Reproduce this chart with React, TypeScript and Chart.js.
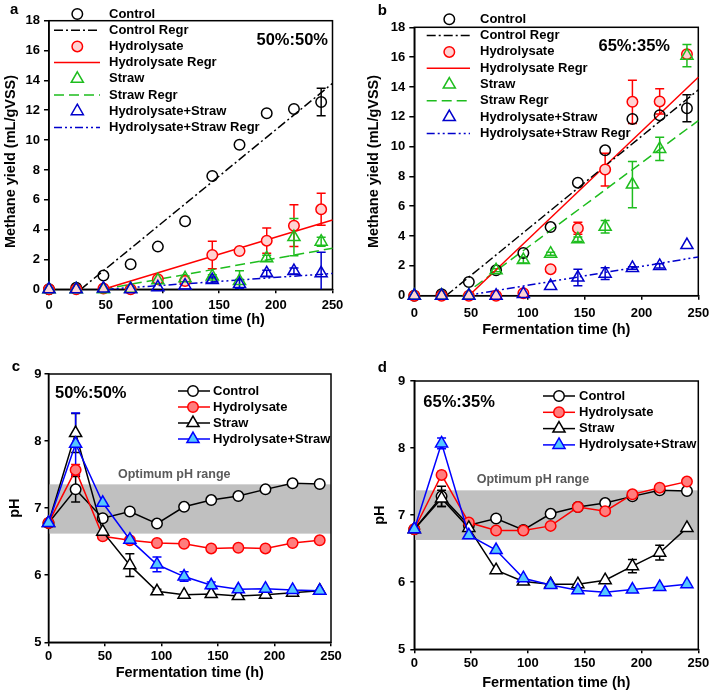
import React, { useEffect, useRef } from 'react';
import { Chart, registerables } from 'chart.js';

Chart.register(...registerables);

const FONT = "'Liberation Sans', Arial, Helvetica, sans-serif";

// ---------- shared ----------
const TIME_H = [0, 24, 48, 72, 96, 120, 144, 168, 192, 216, 240];
const X_TICK_STEP = 50;
const X_MIN = 0;
const X_MAX = 250;
const X_TITLE = 'Fermentation time (h)';
const SERIES_NAMES = ['Control', 'Hydrolysate', 'Straw', 'Hydrolysate+Straw'];
const REGR_NAMES = ['Control Regr', 'Hydrolysate Regr', 'Straw Regr', 'Hydrolysate+Straw Regr'];

// ---------- panel a : methane yield, 50%:50% ----------
const A_CONTROL = [0, 0.1, 0.92, 1.68, 2.86, 4.56, 7.59, 9.69, 11.8, 12.08, 12.55];
const A_CONTROL_ERR = [0, 0, 0, 0, 0, 0, 0, 0, 0, 0, 0.92];
const A_HYDRO = [0, 0, 0.05, 0, 0.67, 0.55, 2.3, 2.57, 3.26, 4.26, 5.36];
const A_HYDRO_ERR = [0, 0, 0, 0, 0, 0, 0.92, 0.15, 0.84, 1.4, 1.07];
const A_STRAW = [0, 0, 0, 0.03, 0.6, 0.74, 0.86, 0.55, 2.08, 3.5, 3.19];
const A_STRAW_ERR = [0, 0, 0, 0, 0, 0.15, 0.12, 0.7, 0.2, 1.25, 0.3];
const A_HS = [0, 0, 0.05, 0, 0.13, 0.25, 0.62, 0.35, 1.07, 1.22, 1.07];
const A_HS_ERR = [0, 0, 0, 0, 0, 0, 0.2, 0.3, 0.2, 0.2, 1.42];
const A_REGR_X0 = [28, 48, 47, 50];
const A_REGR_Y_END = [13.8, 4.65, 2.75, 1.06];

// ---------- panel b : methane yield, 65%:35% ----------
const B_CONTROL = [0, 0.1, 0.92, 1.7, 2.86, 4.6, 7.58, 9.75, 11.85, 12.1, 12.57];
const B_CONTROL_ERR = [0, 0, 0, 0, 0, 0, 0, 0, 0, 0, 0.9];
const B_HYDRO = [0, 0, 0, 0, 0.17, 1.78, 4.52, 8.46, 13.0, 13.03, 16.2];
const B_HYDRO_ERR = [0, 0, 0, 0, 0, 0.1, 0.4, 1.1, 1.45, 0.85, 0.15];
const B_STRAW = [0, 0, 0, 1.7, 2.39, 2.82, 3.78, 4.62, 7.45, 9.84, 16.1];
const B_STRAW_ERR = [0, 0, 0, 0.1, 0.2, 0.1, 0.15, 0.42, 1.55, 0.78, 0.74];
const B_HS = [0, 0, 0, 0, 0.12, 0.65, 1.22, 1.48, 1.86, 2.0, 3.4];
const B_HS_ERR = [0, 0, 0, 0, 0, 0, 0.55, 0.4, 0.08, 0.15, 0];
const B_REGR_X0 = [28, 48, 42.5, 45];
const B_REGR_Y_END = [13.8, 14.65, 11.74, 2.6];

// ---------- panel c : pH, 50%:50% ----------
const C_CONTROL = [6.78, 7.28, 6.85, 6.95, 6.77, 7.02, 7.12, 7.18, 7.28, 7.37, 7.36];
const C_CONTROL_ERR = [0, 0.19, 0, 0, 0, 0, 0, 0, 0, 0, 0];
const C_HYDRO = [6.78, 7.57, 6.58, 6.52, 6.48, 6.47, 6.4, 6.41, 6.4, 6.48, 6.52];
const C_HYDRO_ERR = [0, 0.08, 0, 0, 0, 0, 0, 0, 0, 0.04, 0.03];
const C_STRAW = [6.78, 8.12, 6.65, 6.15, 5.76, 5.71, 5.72, 5.69, 5.71, 5.74, 5.77];
const C_STRAW_ERR = [0, 0.29, 0, 0.17, 0.03, 0, 0, 0, 0, 0, 0];
const C_HS = [6.78, 7.96, 7.08, 6.53, 6.16, 5.98, 5.85, 5.79, 5.8, 5.78, 5.77];
const C_HS_ERR = [0, 0.46, 0, 0, 0.11, 0.07, 0.05, 0, 0, 0, 0];
const C_OPTIMUM = [6.62, 7.355];

// ---------- panel d : pH, 65%:35% ----------
const D_CONTROL = [6.79, 7.28, 6.85, 6.95, 6.78, 7.02, 7.12, 7.18, 7.28, 7.37, 7.36];
const D_CONTROL_ERR = [0, 0.15, 0, 0, 0, 0, 0, 0, 0, 0, 0];
const D_HYDRO = [6.79, 7.6, 6.89, 6.77, 6.77, 6.84, 7.12, 7.06, 7.31, 7.41, 7.5];
const D_HYDRO_ERR = [0, 0.05, 0, 0, 0, 0, 0, 0, 0, 0, 0];
const D_STRAW = [6.79, 7.25, 6.81, 6.18, 6.01, 5.97, 5.97, 6.03, 6.24, 6.44, 6.81];
const D_STRAW_ERR = [0, 0.12, 0, 0, 0, 0, 0, 0, 0.1, 0.11, 0];
const D_HS = [6.79, 8.07, 6.7, 6.48, 6.06, 5.96, 5.88, 5.85, 5.89, 5.93, 5.97];
const D_HS_ERR = [0, 0.08, 0, 0, 0, 0, 0, 0, 0, 0, 0];
const D_OPTIMUM = [6.63, 7.37];

const OPTIMUM_LABEL = 'Optimum pH range';

// ---------- styles ----------
const NONE = 'rgba(0,0,0,0)';
const AB_STYLES = [
  { color: '#000000', fill: NONE, shape: 'circle', r: 5.25, dash: [9, 3, 2, 3] },
  { color: '#ff0000', fill: '#ffd2d2', shape: 'circle', r: 5.25, dash: [] },
  { color: '#1ebd1e', fill: NONE, shape: 'triangle', r: 7, dash: [10, 5] },
  { color: '#0000cc', fill: NONE, shape: 'triangle', r: 7, dash: [8, 3, 2, 3, 2, 3] },
];
const CD_STYLES = [
  { color: '#000000', fill: '#ffffff', shape: 'circle', r: 5.25 },
  { color: '#ff0000', fill: '#ff7d7d', shape: 'circle', r: 5.25 },
  { color: '#000000', fill: '#ffffff', shape: 'triangle', r: 7 },
  { color: '#0000ff', fill: '#55c8ff', shape: 'triangle', r: 7 },
];

function drawShape(ctx, shape, x, y, r, stroke, fill) {
  ctx.save();
  ctx.setLineDash([]);
  ctx.beginPath();
  if (shape === 'circle') {
    ctx.arc(x, y, r, 0, Math.PI * 2);
  } else {
    for (let k = 0; k < 3; k++) {
      const a = (k * 2 * Math.PI) / 3;
      const px = x + Math.sin(a) * r;
      const py = y - Math.cos(a) * r;
      if (k === 0) ctx.moveTo(px, py);
      else ctx.lineTo(px, py);
    }
    ctx.closePath();
  }
  ctx.fillStyle = fill;
  ctx.fill();
  ctx.lineWidth = 1.5;
  ctx.strokeStyle = stroke;
  ctx.stroke();
  ctx.restore();
}

function markerDataset(label, ys, errs, st, order, showLine) {
  return {
    label,
    data: TIME_H.map((x, i) => ({ x, y: ys[i] })),
    errors: errs,
    showLine,
    borderColor: st.color,
    backgroundColor: st.fill,
    borderWidth: 1.5,
    pointStyle: st.shape,
    pointRadius: st.r,
    pointBorderWidth: 1.5,
    pointBorderColor: st.color,
    pointBackgroundColor: st.fill,
    tension: 0,
    order,
    clip: false,
  };
}

function regrDataset(label, x0, yEnd, st) {
  return {
    label,
    data: [
      { x: x0, y: 0 },
      { x: X_MAX, y: yEnd },
    ],
    showLine: true,
    borderColor: st.color,
    borderWidth: 1.5,
    borderDash: st.dash,
    pointRadius: 0,
    fill: false,
    order: 10,
    clip: false,
  };
}

function makeOverlay(spec) {
  return {
    id: 'overlay',
    beforeDatasetsDraw(chart) {
      const { ctx, chartArea: ca, scales } = chart;
      const xs = scales.x;
      const ys = scales.y;
      ctx.save();
      if (spec.band) {
        const yTop = ys.getPixelForValue(spec.band[1]);
        const yBot = ys.getPixelForValue(spec.band[0]);
        ctx.fillStyle = '#c0c0c0';
        ctx.fillRect(ca.left, yTop, ca.right - ca.left, yBot - yTop);
        ctx.fillStyle = '#5a5a5a';
        ctx.font = `bold 12.5px ${FONT}`;
        ctx.textAlign = 'left';
        ctx.textBaseline = 'middle';
        ctx.fillText(OPTIMUM_LABEL, spec.bandLabelX, ys.getPixelForValue(spec.bandLabelY));
      }
      ctx.strokeStyle = '#000';
      ctx.lineWidth = 1.5;
      ctx.strokeRect(ca.left, ca.top, ca.right - ca.left, ca.bottom - ca.top);
      ctx.beginPath();
      ctx.rect(ca.left, ca.top - 10, ca.right - ca.left, ca.bottom - ca.top + 10);
      ctx.clip();
      chart.data.datasets.forEach((ds) => {
        const errs = ds.errors;
        if (!errs) return;
        ctx.strokeStyle = ds.pointBorderColor;
        ctx.lineWidth = 1.5;
        ctx.setLineDash([]);
        ds.data.forEach((p, j) => {
          const e = errs[j];
          if (!e) return;
          const px = xs.getPixelForValue(p.x);
          const yt = ys.getPixelForValue(p.y + e);
          const yb = ys.getPixelForValue(p.y - e);
          const cap = 4.5;
          ctx.beginPath();
          ctx.moveTo(px, yt);
          ctx.lineTo(px, yb);
          ctx.moveTo(px - cap, yt);
          ctx.lineTo(px + cap, yt);
          ctx.moveTo(px - cap, yb);
          ctx.lineTo(px + cap, yb);
          ctx.stroke();
        });
      });
      ctx.restore();
    },
    afterDraw(chart) {
      const { ctx } = chart;
      ctx.save();
      // y title drawn manually when an explicit centre is given
      if (spec.yTitleCenterY) {
        ctx.save();
        ctx.fillStyle = '#000';
        ctx.font = `bold 14.5px ${FONT}`;
        ctx.textAlign = 'center';
        ctx.textBaseline = 'middle';
        ctx.translate(spec.yTitleX, spec.yTitleCenterY);
        ctx.rotate(-Math.PI / 2);
        ctx.fillText(spec.yTitle, 0, 0);
        ctx.restore();
      }
      // panel letter
      ctx.fillStyle = '#000';
      ctx.font = `bold 15px ${FONT}`;
      ctx.textAlign = 'left';
      ctx.textBaseline = 'alphabetic';
      ctx.fillText(spec.letter, spec.letterX, spec.letterY);
      // ratio label
      ctx.font = `bold 16.5px ${FONT}`;
      ctx.textAlign = spec.ratioAlign;
      ctx.fillText(spec.ratio, spec.ratioX, spec.ratioY);
      // legend
      const lg = spec.legend;
      ctx.font = `bold 13px ${FONT}`;
      ctx.textAlign = 'left';
      ctx.textBaseline = 'middle';
      lg.items.forEach((it, i) => {
        const y = lg.y0 + i * lg.dy;
        if (it.line) {
          ctx.save();
          ctx.strokeStyle = it.lineColor;
          ctx.lineWidth = 1.5;
          ctx.setLineDash(it.dash || []);
          ctx.beginPath();
          ctx.moveTo(lg.x0, y);
          ctx.lineTo(lg.x1, y);
          ctx.stroke();
          ctx.restore();
        }
        if (it.marker) {
          drawShape(ctx, it.marker.shape, lg.mx, y, it.marker.r, it.marker.color, it.marker.fill);
        }
        ctx.fillStyle = '#000';
        ctx.fillText(it.label, lg.tx, y);
      });
      ctx.restore();
    },
  };
}

function buildConfig(spec) {
  const { w, h, area } = spec;
  return {
    type: 'line',
    data: { datasets: spec.datasets },
    options: {
      responsive: false,
      animation: false,
      devicePixelRatio: 1,
      events: [],
      layout: { padding: { left: 0, top: area.T, right: w - area.R, bottom: 0 } },
      plugins: { legend: { display: false }, tooltip: { enabled: false } },
      scales: {
        x: {
          type: 'linear',
          min: X_MIN,
          max: X_MAX,
          ticks: { stepSize: X_TICK_STEP, color: '#000', font: { family: FONT, size: 13, weight: 'bold' }, padding: spec.xTickPad, maxRotation: 0 },
          grid: { drawOnChartArea: false, drawTicks: true, tickLength: 4, color: '#000', lineWidth: 1.5 },
          border: { display: true, color: '#000', width: 1.5 },
          title: { display: true, text: X_TITLE, color: '#000', font: { family: FONT, size: 14.5, weight: 'bold' }, padding: { top: 0, bottom: spec.xTitlePad } },
          afterFit: (s) => {
            s.height = h - area.B;
            s.paddingLeft = 0;
            s.paddingRight = 0;
          },
        },
        y: {
          type: 'linear',
          min: spec.yMin,
          max: spec.yMax,
          ticks: { stepSize: spec.yStep, color: '#000', font: { family: FONT, size: 13, weight: 'bold' }, padding: spec.yTickPad },
          grid: { drawOnChartArea: false, drawTicks: true, tickLength: spec.yTickLen, color: '#000', lineWidth: 1.5 },
          border: { display: true, color: '#000', width: 1.5 },
          title: { display: !spec.yTitleCenterY, text: spec.yTitle, color: '#000', font: { family: FONT, size: 14.5, weight: 'bold' }, padding: { top: spec.yTitlePad, bottom: 0 } },
          afterFit: (s) => {
            s.width = area.L;
            s.paddingTop = 0;
            s.paddingBottom = 0;
          },
        },
      },
    },
    plugins: [makeOverlay(spec)],
  };
}

function methaneDatasets(series, errs, regrX0, regrYEnd) {
  const markers = series.map((ys, i) =>
    markerDataset(SERIES_NAMES[i], ys, errs[i], AB_STYLES[i], 4 - i, false)
  );
  const regr = regrX0.map((x0, i) => regrDataset(REGR_NAMES[i], x0, regrYEnd[i], AB_STYLES[i]));
  return [...markers, ...regr];
}

function phDatasets(series, errs) {
  return series.map((ys, i) => markerDataset(SERIES_NAMES[i], ys, errs[i], CD_STYLES[i], 4 - i, true));
}

function methaneLegendItems() {
  const items = [];
  SERIES_NAMES.forEach((name, i) => {
    const st = AB_STYLES[i];
    items.push({ label: name, marker: st });
    items.push({ label: REGR_NAMES[i], line: true, lineColor: st.color, dash: st.dash });
  });
  return items;
}

function phLegendItems() {
  return SERIES_NAMES.map((name, i) => ({
    label: name,
    marker: CD_STYLES[i],
    line: true,
    lineColor: CD_STYLES[i].color,
  }));
}

const PANELS = [
  {
    key: 'a', left: 0, top: 0, w: 355, h: 345,
    area: { L: 49, R: 332.5, T: 20.7, B: 289.3 },
    yMin: 0, yMax: 18, yStep: 2, yTitle: 'Methane yield (mL/gVSS)',
    yTitlePad: 2, yTitleX: 10.7, yTitleCenterY: 161.5,
    yTickPad: 4, yTickLen: 5, xTickPad: 3.9, xTitlePad: 16.8,
    letter: 'a', letterX: 10, letterY: 14,
    ratio: '50%:50%', ratioAlign: 'right', ratioX: 328, ratioY: 44.5,
    legend: { y0: 14, dy: 16.2, x0: 54, x1: 100, mx: 77.3, tx: 109, items: methaneLegendItems() },
    datasets: methaneDatasets([A_CONTROL, A_HYDRO, A_STRAW, A_HS], [A_CONTROL_ERR, A_HYDRO_ERR, A_STRAW_ERR, A_HS_ERR], A_REGR_X0, A_REGR_Y_END),
  },
  {
    key: 'b', left: 355, top: 0, w: 355, h: 345,
    area: { L: 59.3, R: 343.3, T: 27.3, B: 295.7 },
    yMin: 0, yMax: 18, yStep: 2, yTitle: 'Methane yield (mL/gVSS)',
    yTitlePad: 10.5, yTickPad: 4, yTickLen: 5, xTickPad: 5.5, xTitlePad: 6.3,
    letter: 'b', letterX: 22.7, letterY: 15,
    ratio: '65%:35%', ratioAlign: 'right', ratioX: 315, ratioY: 50.7,
    legend: { y0: 19.3, dy: 16.3, x0: 71.7, x1: 115, mx: 94.3, tx: 125, items: methaneLegendItems() },
    datasets: methaneDatasets([B_CONTROL, B_HYDRO, B_STRAW, B_HS], [B_CONTROL_ERR, B_HYDRO_ERR, B_STRAW_ERR, B_HS_ERR], B_REGR_X0, B_REGR_Y_END),
  },
  {
    key: 'c', left: 0, top: 345, w: 355, h: 349,
    area: { L: 48.5, R: 331, T: 29, B: 297.3 },
    yMin: 5, yMax: 9, yStep: 1, yTitle: 'pH',
    yTitlePad: 6.3, yTickPad: 3, yTickLen: 4, xTickPad: 2.6, xTitlePad: 12,
    letter: 'c', letterX: 11.7, letterY: 26,
    ratio: '50%:50%', ratioAlign: 'left', ratioX: 55, ratioY: 53.3,
    band: C_OPTIMUM, bandLabelX: 118, bandLabelY: 7.5,
    legend: { y0: 46, dy: 16, x0: 178, x1: 210, mx: 193, tx: 213, items: phLegendItems() },
    datasets: phDatasets([C_CONTROL, C_HYDRO, C_STRAW, C_HS], [C_CONTROL_ERR, C_HYDRO_ERR, C_STRAW_ERR, C_HS_ERR]),
  },
  {
    key: 'd', left: 355, top: 345, w: 355, h: 349,
    area: { L: 59.3, R: 343.3, T: 36, B: 304.3 },
    yMin: 5, yMax: 9, yStep: 1, yTitle: 'pH',
    yTitlePad: 16.3, yTickPad: 5, yTickLen: 4, xTickPad: 2.2, xTitlePad: 2.3,
    letter: 'd', letterX: 22.7, letterY: 26.7,
    ratio: '65%:35%', ratioAlign: 'left', ratioX: 68.3, ratioY: 62.3,
    band: D_OPTIMUM, bandLabelX: 121.7, bandLabelY: 7.53,
    legend: { y0: 51, dy: 16.3, x0: 188, x1: 220, mx: 204, tx: 224, items: phLegendItems() },
    datasets: phDatasets([D_CONTROL, D_HYDRO, D_STRAW, D_HS], [D_CONTROL_ERR, D_HYDRO_ERR, D_STRAW_ERR, D_HS_ERR]),
  },
];

function Panel({ spec }) {
  const ref = useRef(null);
  useEffect(() => {
    const chart = new Chart(ref.current, buildConfig(spec));
    return () => chart.destroy();
  }, [spec]);
  return (
    <div style={{ position: 'absolute', left: spec.left, top: spec.top, width: spec.w, height: spec.h }}>
      <canvas ref={ref} width={spec.w} height={spec.h} style={{ display: 'block', width: spec.w, height: spec.h }} />
    </div>
  );
}

export default function App() {
  return (
    <div style={{ position: 'absolute', left: 0, top: 0, width: 710, height: 694, background: '#ffffff', overflow: 'hidden' }}>
      {PANELS.map((p) => (
        <Panel key={p.key} spec={p} />
      ))}
    </div>
  );
}
